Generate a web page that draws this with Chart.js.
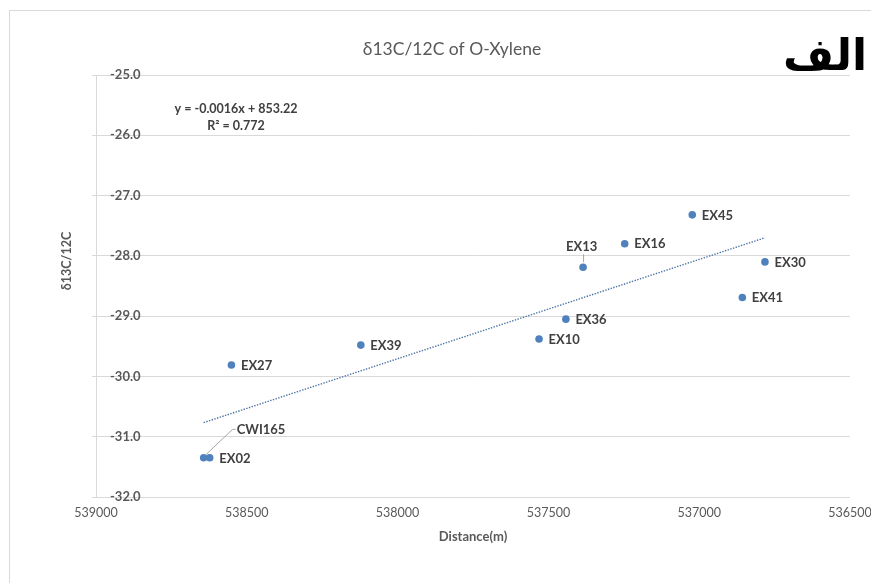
<!DOCTYPE html>
<html>
<head>
<meta charset="utf-8">
<title>δ13C/12C of O-Xylene</title>
<script src="https://cdn.jsdelivr.net/npm/chart.js@4.4.1/dist/chart.umd.min.js"></script>
<style>
  html, body { margin: 0; padding: 0; background: #ffffff; }
  #wrap { position: relative; width: 871px; height: 583px; overflow: hidden; }
  #frame { position: absolute; left: 9px; top: 10px; width: 900px; height: 600px;
           border: 1px solid #d9d9d9; box-sizing: border-box; }
  #c { position: absolute; left: 0; top: 0; }
</style>
</head>
<body>
<div id="wrap">
  <div id="frame"></div>
  <canvas id="c" width="871" height="583"></canvas>
</div>
<script>
// Sampling sites along the transect
const siteNames = ['CWI165', 'EX02', 'EX27', 'EX39', 'EX10', 'EX36', 'EX13', 'EX16', 'EX45', 'EX41', 'EX30'];
// Distance (m)
const distanceM = [538643, 538623, 538551, 538122, 537531, 537442, 537385, 537247, 537023, 536857, 536782];
// δ13C/12C of O-Xylene (‰)
const d13C = [-31.35, -31.35, -29.81, -29.48, -29.38, -29.05, -28.19, -27.80, -27.32, -28.69, -28.10];

// Axis ticks
const xTicks = [539000, 538500, 538000, 537500, 537000, 536500];
const yTicks = [-25, -26, -27, -28, -29, -30, -31, -32];

// Texts
const chartTitle = 'δ13C/12C of O-Xylene';
const yTitle = 'δ13C/12C';
const xTitle = 'Distance(m)';
const panelMark = 'الف';
const equationText = 'y = -0.0016x + 853.22';
const r2Text = 'R² = 0.772';

const points = distanceM.map((x, i) => ({ x, y: d13C[i] }));

// Least-squares linear trend over the measured points
function linearFit(xs, ys) {
  const n = xs.length;
  const mx = xs.reduce((a, b) => a + b, 0) / n;
  const my = ys.reduce((a, b) => a + b, 0) / n;
  let sxy = 0, sxx = 0;
  for (let i = 0; i < n; i++) {
    sxy += (xs[i] - mx) * (ys[i] - my);
    sxx += (xs[i] - mx) * (xs[i] - mx);
  }
  const slope = sxy / sxx;
  return { slope, intercept: my - slope * mx };
}
const fit = linearFit(distanceM, d13C);
const xLo = Math.min(...distanceM), xHi = Math.max(...distanceM);
const trend = [xHi, xLo].map(x => ({ x, y: fit.slope * x + fit.intercept }));

const FONT = 'Lato, "Open Sans", "DejaVu Sans", sans-serif';
const GREY = '#595959';
const DARK = '#404040';

// Site labels, chart title, y-axis title, trend equation and panel mark
const annotate = {
  id: 'annotate',
  afterDatasetsDraw(chart) {
    const { ctx } = chart;
    const pts = chart.getDatasetMeta(0).data;
    ctx.save();
    ctx.font = 'bold 13px ' + FONT;
    ctx.fillStyle = DARK;
    ctx.strokeStyle = '#a6a6a6';
    ctx.lineWidth = 1;
    ctx.textBaseline = 'middle';
    pts.forEach((p, i) => {
      const name = siteNames[i];
      if (name === 'EX13') {
        ctx.beginPath();
        ctx.moveTo(p.x + 0.5, p.y - 5);
        ctx.lineTo(p.x + 0.5, p.y - 13);
        ctx.stroke();
        ctx.textAlign = 'center';
        ctx.fillText(name, p.x - 1.5, p.y - 20.5);
      } else if (name === 'CWI165') {
        ctx.beginPath();
        ctx.moveTo(p.x + 2, p.y - 3);
        ctx.lineTo(p.x + 29, p.y - 28.5);
        ctx.lineTo(p.x + 32, p.y - 28.5);
        ctx.stroke();
        ctx.textAlign = 'left';
        ctx.fillText(name, p.x + 33, p.y - 28.4);
      } else {
        ctx.textAlign = 'left';
        ctx.fillText(name, p.x + 9.5, p.y + 0.5);
      }
    });
    ctx.restore();
  },
  afterDraw(chart) {
    const { ctx } = chart;
    ctx.save();
    ctx.textBaseline = 'middle';
    ctx.textAlign = 'center';

    ctx.fillStyle = GREY;
    ctx.font = '17.5px ' + FONT;
    ctx.fillText(chartTitle, 452, 49);

    ctx.save();
    ctx.translate(67, 261);
    ctx.rotate(-Math.PI / 2);
    ctx.font = 'bold 12.5px ' + FONT;
    ctx.fillText(yTitle, 0, 0);
    ctx.restore();

    ctx.fillStyle = DARK;
    ctx.font = 'bold 12.5px ' + FONT;
    ctx.fillText(equationText, 236, 108.5);
    ctx.fillText(r2Text, 236, 125.5);

    ctx.fillStyle = '#000000';
    ctx.textAlign = 'right';
    ctx.textBaseline = 'alphabetic';
    ctx.font = 'bold 44px "DejaVu Sans", sans-serif';
    ctx.fillText(panelMark, 867, 70);
    ctx.restore();
  }
};

new Chart(document.getElementById('c'), {
  type: 'scatter',
  data: {
    datasets: [
      {
        label: yTitle,
        data: points,
        pointRadius: 3.8,
        pointHoverRadius: 3.8,
        pointBackgroundColor: '#4f81bd',
        pointBorderColor: '#4f81bd',
        pointBorderWidth: 0,
        order: 1
      },
      {
        label: 'Linear trend',
        type: 'line',
        data: trend,
        showLine: true,
        pointRadius: 0,
        borderColor: '#4d74a6',
        borderWidth: 1.4,
        borderDash: [1.4, 1.4],
        fill: false,
        order: 2
      }
    ]
  },
  options: {
    responsive: false,
    animation: false,
    devicePixelRatio: 1,
    events: [],
    layout: { padding: { top: 75, right: 21, bottom: 0, left: 0 } },
    plugins: {
      legend: { display: false },
      tooltip: { enabled: false },
      title: { display: false }
    },
    scales: {
      x: {
        type: 'linear',
        reverse: true,
        min: Math.min(...xTicks),
        max: Math.max(...xTicks),
        afterBuildTicks: s => { s.ticks = xTicks.map(v => ({ value: v })); },
        afterFit: s => { s.height = 86; s.paddingLeft = 0; s.paddingRight = 0; },
        grid: { display: false, drawTicks: false },
        border: { display: false },
        ticks: {
          padding: 8,
          color: GREY,
          maxRotation: 0,
          autoSkip: false,
          font: { family: FONT, size: 12.5 },
          callback: v => String(v)
        },
        title: {
          display: true,
          text: xTitle,
          color: GREY,
          font: { family: FONT, size: 13, weight: 'bold' },
          padding: { top: 0, bottom: 38 }
        }
      },
      y: {
        type: 'linear',
        min: Math.min(...yTicks),
        max: Math.max(...yTicks),
        afterBuildTicks: s => { s.ticks = yTicks.slice().reverse().map(v => ({ value: v })); },
        afterFit: s => { s.width = 96; s.paddingTop = 0; s.paddingBottom = 0; },
        grid: { color: '#d9d9d9', lineWidth: 1, drawTicks: true, tickLength: 4 },
        border: { display: true, color: '#d9d9d9', width: 1 },
        ticks: {
          mirror: true,
          padding: 14,
          color: GREY,
          font: { family: FONT, size: 13, weight: 'bold' },
          callback: v => Number(v).toFixed(1)
        }
      }
    }
  },
  plugins: [annotate]
});
</script>
</body>
</html>
